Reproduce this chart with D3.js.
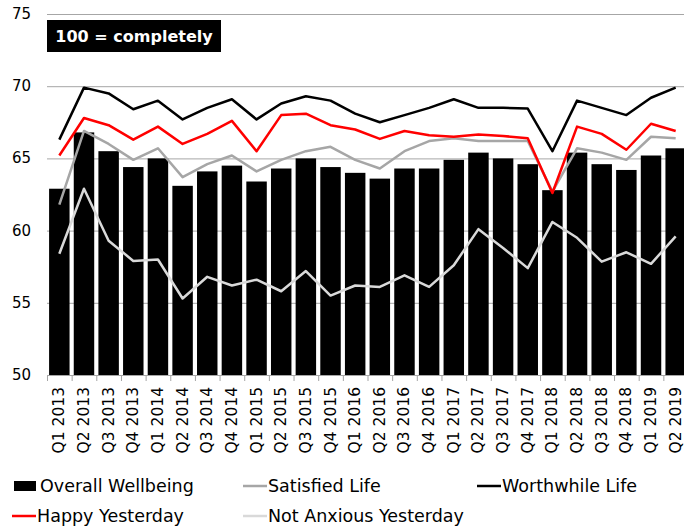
<!DOCTYPE html>
<html>
<head>
<meta charset="utf-8">
<script src="https://cdn.jsdelivr.net/npm/d3@7"></script>
<style>
  body { margin: 0; background: #fff; }
  text { font-family: "DejaVu Sans", sans-serif; }
</style>
</head>
<body>
<div id="chart"></div>
<script>
// quarters on the x axis
let quarters = ["Q1 2013", "Q2 2013", "Q3 2013", "Q4 2013",
    "Q1 2014", "Q2 2014", "Q3 2014", "Q4 2014",
    "Q1 2015", "Q2 2015", "Q3 2015", "Q4 2015",
    "Q1 2016", "Q2 2016", "Q3 2016", "Q4 2016",
    "Q1 2017", "Q2 2017", "Q3 2017", "Q4 2017",
    "Q1 2018", "Q2 2018", "Q3 2018", "Q4 2018",
    "Q1 2019", "Q2 2019"]

let overallWellbeing = [62.9, 66.8, 65.5, 64.4, 65.0, 63.1, 64.1, 64.5, 63.4, 64.3, 65.0, 64.4,
    64.0, 63.6, 64.3, 64.3, 64.9, 65.4, 65.0, 64.6, 62.8, 65.4, 64.6, 64.2, 65.2, 65.7]
let satisfiedLife = [61.8, 66.9, 66.0, 64.9, 65.7, 63.7, 64.6, 65.2, 64.1, 64.9, 65.5, 65.8,
    64.9, 64.3, 65.5, 66.2, 66.4, 66.2, 66.2, 66.2, 62.7, 65.7, 65.4, 64.9, 66.5, 66.4]
let worthwhileLife = [66.3, 69.9, 69.5, 68.4, 69.0, 67.7, 68.5, 69.1, 67.7, 68.8, 69.3, 69.0,
    68.1, 67.5, 68.0, 68.5, 69.1, 68.5, 68.5, 68.45, 65.5, 69.0, 68.5, 68.0, 69.2, 69.9]
let happyYesterday = [65.2, 67.8, 67.3, 66.3, 67.2, 66.0, 66.7, 67.6, 65.5, 68.0, 68.1, 67.3,
    67.0, 66.35, 66.9, 66.6, 66.5, 66.65, 66.55, 66.4, 62.6, 67.2, 66.7, 65.6, 67.4, 66.9]
let notAnxious = [58.4, 62.9, 59.3, 57.9, 58.0, 55.3, 56.8, 56.2, 56.6, 55.8, 57.2, 55.5,
    56.2, 56.1, 56.9, 56.1, 57.6, 60.1, 58.8, 57.4, 60.6, 59.5, 57.85, 58.5, 57.7, 59.6]

let yTicks = [50, 55, 60, 65, 70, 75]

let width = 684, height = 530

let svg = d3.select('#chart').append('svg')
    .attr('width', width)
    .attr('height', height)

let x = d3.scaleBand()
    .domain(quarters)
    .range([47, 688])
    .paddingInner(0.17)
    .paddingOuter(0.085)

let y = d3.scaleLinear()
    .domain([50, 75])
    .range([375, 14])

// gridlines
svg.append('g')
    .selectAll('line')
    .data(yTicks.slice(1))
    .enter()
    .append('line')
    .attr('x1', 47)
    .attr('x2', 688)
    .attr('y1', d => y(d) + 0.5)
    .attr('y2', d => y(d) + 0.5)
    .attr('stroke', '#a6a6a6')
    .attr('stroke-width', 1)

// y labels
svg.append('g')
    .selectAll('text')
    .data(yTicks)
    .enter()
    .append('text')
    .attr('x', 31)
    .attr('y', d => y(d) + 5)
    .attr('text-anchor', 'end')
    .attr('font-size', 15)
    .attr('fill', '#000')
    .text(d => d)

// bars
svg.append('g')
    .selectAll('rect')
    .data(overallWellbeing)
    .enter()
    .append('rect')
    .attr('x', (d, i) => x(quarters[i]))
    .attr('y', d => y(d))
    .attr('width', x.bandwidth())
    .attr('height', d => y(50) - y(d))
    .attr('fill', '#000')

// x axis
let xAxis = svg.append('g')
xAxis.append('line')
    .attr('x1', 47).attr('x2', 688)
    .attr('y1', 375.5).attr('y2', 375.5)
    .attr('stroke', '#a6a6a6')
let step = x.step()
xAxis.selectAll('.tick')
    .data(d3.range(quarters.length + 1))
    .enter()
    .append('line')
    .attr('x1', i => 47 + i * step + 0.5)
    .attr('x2', i => 47 + i * step + 0.5)
    .attr('y1', 375)
    .attr('y2', 381)
    .attr('stroke', '#a6a6a6')
xAxis.selectAll('text')
    .data(quarters)
    .enter()
    .append('text')
    .attr('transform', d => 'translate(' + (x(d) + x.bandwidth() / 2 + 5) + ',387) rotate(-90)')
    .attr('text-anchor', 'end')
    .attr('font-size', 15.5)
    .text(d => d)

// lines
let series = [
    {name: 'Not Anxious Yesterday', values: notAnxious, color: '#d9d9d9'},
    {name: 'Satisfied Life', values: satisfiedLife, color: '#a6a6a6'},
    {name: 'Happy Yesterday', values: happyYesterday, color: '#ff0000'},
    {name: 'Worthwhile Life', values: worthwhileLife, color: '#000000'}
]

let line = d3.line()
    .x((d, i) => x(quarters[i]) + x.bandwidth() / 2)
    .y(d => y(d))

series.forEach(function (s) {
    svg.append('path')
        .attr('d', line(s.values))
        .attr('fill', 'none')
        .attr('stroke', s.color)
        .attr('stroke-width', 2.5)
        .attr('stroke-linejoin', 'round')
})

// annotation box
svg.append('rect')
    .attr('x', 47).attr('y', 20)
    .attr('width', 174).attr('height', 32)
    .attr('fill', '#000')
svg.append('text')
    .attr('x', 134).attr('y', 42)
    .attr('text-anchor', 'middle')
    .attr('font-size', 16)
    .attr('font-weight', 'bold')
    .attr('fill', '#fff')
    .text('100 = completely')

// legend
let legend = [
    {name: 'Overall Wellbeing', type: 'bar', color: '#000', x: 14, y: 486},
    {name: 'Satisfied Life', type: 'line', color: '#a6a6a6', x: 243, y: 486},
    {name: 'Worthwhile Life', type: 'line', color: '#000', x: 477, y: 486},
    {name: 'Happy Yesterday', type: 'line', color: '#ff0000', x: 12, y: 516},
    {name: 'Not Anxious Yesterday', type: 'line', color: '#d9d9d9', x: 243, y: 516}
]

legend.forEach(function (l) {
    if (l.type === 'bar') {
        svg.append('rect')
            .attr('x', l.x).attr('y', l.y - 5)
            .attr('width', 22).attr('height', 10)
            .attr('fill', l.color)
    } else {
        svg.append('line')
            .attr('x1', l.x).attr('x2', l.x + 24)
            .attr('y1', l.y).attr('y2', l.y)
            .attr('stroke', l.color)
            .attr('stroke-width', 2.5)
    }
    svg.append('text')
        .attr('x', l.x + 24 + (l.type === 'bar' ? 2 : 1))
        .attr('y', l.y + 6)
        .attr('font-size', 17.5)
        .text(l.name)
})
</script>
</body>
</html>
